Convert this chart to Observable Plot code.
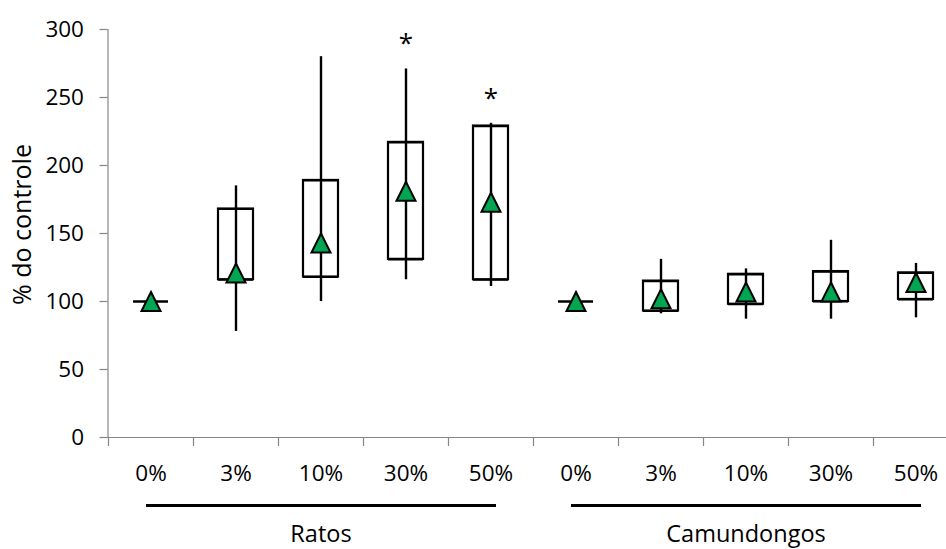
<!DOCTYPE html>
<html>
<head>
<meta charset="utf-8">
<script src="https://cdn.jsdelivr.net/npm/d3@7"></script>
<script src="https://cdn.jsdelivr.net/npm/@observablehq/plot@0.6"></script>
<style>
  body { margin: 0; background: #fff; }
  #chart svg { display: block; }
</style>
</head>
<body>
<div id="chart"></div>
<script>
// Dose groups shown for each species
const groups = ["Ratos", "Camundongos"];
const doses = ["0%", "3%", "10%", "30%", "50%"];

// Box limits (lower / upper quartile), % of control
const boxLow  = [[100, 116, 118, 131, 116], [100, 93, 98, 100, 101.5]];
const boxHigh = [[100, 168, 189, 217, 229], [100, 115, 120, 122, 121]];

// Whisker range (minimum / maximum), % of control
const whiskerLow  = [[100, 78, 100, 116, 111], [100, 91, 87, 87, 88]];
const whiskerHigh = [[100, 185, 280, 271, 231], [100, 131, 124, 145, 128]];

// Mean values (green triangles)
const means = [[100, 121, 143, 181, 173], [100, 102, 107, 107, 114]];

// Statistically significant difference from control
const significant = [[false, false, false, true, true], [false, false, false, false, false]];

const yTicks = [0, 50, 100, 150, 200, 250, 300];

// One row per box
const rows = groups.flatMap((g, gi) => doses.map((d, di) => ({
  key: `${g}|${d}`,
  group: g,
  dose: d,
  q1: boxLow[gi][di],
  q3: boxHigh[gi][di],
  lo: whiskerLow[gi][di],
  hi: whiskerHigh[gi][di],
  mean: means[gi][di],
  sig: significant[gi][di]
})));
const keys = rows.map(d => d.key);

// Species brackets under the dose labels
const groupRows = groups.map(g => ({
  name: g,
  first: `${g}|${doses[0]}`,
  mid: `${g}|${doses[2]}`,
  last: `${g}|${doses[doses.length - 1]}`
}));

// Triangle centred on its bounding box
const triangle = {
  draw(context, size) {
    const r = Math.sqrt(size / Math.PI);
    context.moveTo(0, -r);
    context.lineTo(r, r);
    context.lineTo(-r, r);
    context.closePath();
  }
};

const axisGray = "#868686";
const font = "'Open Sans', 'Noto Sans', sans-serif";
const fs = 22.5;

const chart = Plot.plot({
  width: 946,
  height: 549,
  marginTop: 29,
  marginBottom: 112,
  marginLeft: 107.5,
  marginRight: 0,
  style: { fontFamily: font, fontSize: `${fs}px`, color: "#000", background: "#fff" },
  x: { type: "band", domain: keys, range: [107.5, 957.5], padding: 0 },
  y: { domain: [0, 300] },
  marks: [
    // axes
    Plot.ruleY([0], { stroke: axisGray, strokeWidth: 1.2 }),
    Plot.frame({ anchor: "left", stroke: axisGray, strokeWidth: 1.2 }),
    Plot.axisY({ ticks: yTicks, tickSize: 8, tickPadding: 16, stroke: axisGray, fill: "#000", strokeWidth: 1.2, strokeOpacity: 1, label: null, fontSize: fs }),
    Plot.axisX({ tickSize: 9, tickFormat: () => "", dx: -42.5, stroke: axisGray, strokeWidth: 1.2, strokeOpacity: 1, label: null }),
    Plot.axisX({ tickSize: 0, tickPadding: 28, tickFormat: d => d.split("|")[1], fill: "#000", label: null, fontSize: fs }),
    Plot.text(["% do controle"], { frameAnchor: "left", textAnchor: "middle", rotate: -90, dx: -85, dy: -9, fontSize: 25, fill: "#000" }),

    // boxes
    Plot.barY(rows, { x: "key", y1: "q1", y2: "q3", fill: "#fff", stroke: "#000", strokeWidth: 2.2, insetLeft: 25, insetRight: 25 }),
    Plot.tickY(rows, { x: "key", y: "q1", stroke: "#000", strokeWidth: 2.2, insetLeft: 25, insetRight: 25 }),
    Plot.tickY(rows, { x: "key", y: "q3", stroke: "#000", strokeWidth: 2.2, insetLeft: 25, insetRight: 25 }),
    // whiskers
    Plot.ruleX(rows, { x: "key", y1: "lo", y2: "hi", stroke: "#000", strokeWidth: 2.4 }),
    // means
    Plot.dot(rows, { x: "key", y: "mean", symbol: triangle, r: 9.5, fill: "#00A651", stroke: "#000", strokeWidth: 2 }),
    // significance marks
    Plot.text(rows.filter(d => d.sig), { x: "key", y: "hi", text: () => "*", dy: -25, fontSize: 26, fill: "#000" }),

    // species brackets and names
    Plot.ruleY(groupRows, { y: () => 0, x1: "first", x2: "last", dy: 68, insetLeft: 38, insetRight: 37, stroke: "#000", strokeWidth: 3 }),
    Plot.text(groupRows, { x: "mid", y: () => 0, text: "name", dy: 97, fontSize: 23.5, fill: "#000" })
  ]
});

document.getElementById("chart").appendChild(chart);
</script>
</body>
</html>
